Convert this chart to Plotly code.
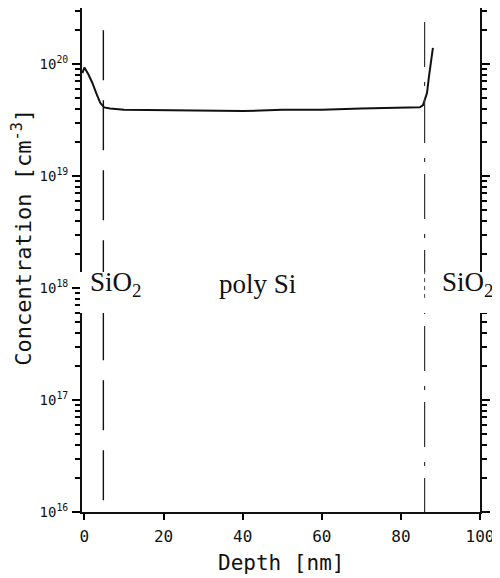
import plotly.graph_objects as go

# ---- data ----
depth_nm = [-0.5, 0.0, 1.0, 2.0, 3.0, 4.0, 5.0, 6.5, 10, 20, 30, 40, 50, 60, 70, 80,
            84.8, 85.6, 86.6, 87.1, 87.9, 88.1]
conc_cm3 = [8.3e19, 9.3e19, 8.1e19, 6.8e19, 5.5e19, 4.5e19, 4.1e19, 4.0e19, 3.9e19,
            3.85e19, 3.8e19, 3.8e19, 3.9e19, 3.9e19, 4.0e19, 4.1e19,
            4.1e19, 4.3e19, 5.5e19, 7.7e19, 1.16e20, 1.39e20]

interface_left_nm = 4.8
interface_right_nm = 86.0

x_tickvals = [0, 20, 40, 60, 80, 100]
x_ticktext = ["0", "20", "40", "60", "80", "100"]
y_tickvals = [1e16, 1e17, 1e18, 1e19, 1e20]
y_ticktext = ["10<sup>16</sup>", "10<sup>17</sup>", "10<sup>18</sup>",
              "10<sup>19</sup>", "10<sup>20</sup>"]
region_labels = ["SiO<sub>2</sub>", "poly Si", "SiO<sub>2</sub>"]
region_label_x = [1.0, 33.6, 89.9]

mono = "DejaVu Sans Mono"
serif = "Liberation Serif"

fig = go.Figure()

fig.add_trace(go.Scatter(x=depth_nm, y=conc_cm3, mode="lines",
                         line=dict(color="#111", width=2), showlegend=False,
                         cliponaxis=False))

# interface dashed lines
fig.add_trace(go.Scatter(x=[interface_left_nm, interface_left_nm], y=[2.0e20, 1e16],
                         mode="lines", line=dict(color="#111", width=1.4, dash="50px,20px"),
                         showlegend=False))
fig.add_trace(go.Scatter(x=[interface_right_nm, interface_right_nm], y=[2.37e20, 1e16],
                         mode="lines",
                         line=dict(color="#333", width=1.2, dash="45px,15px,4px,12px"),
                         showlegend=False))

annotations = []
for txt, xv in zip(region_labels, region_label_x):
    annotations.append(dict(x=xv, y=18.04, xref="x", yref="y", text=txt, showarrow=False,
                            xanchor="left", yanchor="middle",
                            font=dict(family=serif, size=27, color="#111")))
annotations.append(dict(x=-0.151, y=0.546, xref="paper", yref="paper",
                        xanchor="center", yanchor="middle",
                        text="Concentration [cm<sup>-3</sup>]", textangle=-90,
                        showarrow=False, font=dict(family=mono, size=22, color="#111")))
annotations.append(dict(x=0.5, y=-0.101, xref="paper", yref="paper",
                        xanchor="center", yanchor="middle",
                        text="Depth [nm]", showarrow=False,
                        font=dict(family=mono, size=21, color="#111")))

shapes = [
    # white band pasted over the axes behind the region labels
    dict(type="rect", xref="paper", yref="paper", x0=-0.005, x1=1.06, y0=0.395, y1=0.476,
         fillcolor="white", line=dict(width=0), layer="above"),
    dict(type="line", xref="x", yref="paper", x0=interface_right_nm, x1=interface_right_nm,
         y0=0.48, y1=0.425, line=dict(color="#444", width=1, dash="4px,4px"), layer="above"),
    # bottom axis overshoot past the right axis
    dict(type="line", xref="paper", yref="paper", x0=1.0, x1=1.018, y0=0, y1=0,
         line=dict(color="#111", width=2), layer="above"),
]

# page body has an 8px default margin, so the figure is sized/offset to compensate
fig.update_layout(
    width=492, height=570,
    margin=dict(l=74, r=20, t=0, b=66, pad=0),
    paper_bgcolor="white", plot_bgcolor="white",
    showlegend=False,
    annotations=annotations,
    shapes=shapes,
    xaxis=dict(range=[-0.6, 100], tickvals=x_tickvals, ticktext=x_ticktext,
               showgrid=False, zeroline=False, showline=True, linecolor="#111", linewidth=2,
               ticks="outside", ticklen=6, tickwidth=2, tickcolor="#000",
               tickfont=dict(family=mono, size=16, color="#111"), ticklabelstandoff=3),
    yaxis=dict(type="log", range=[16, 20.5], tickvals=y_tickvals, ticktext=y_ticktext,
               showgrid=False, zeroline=False, showline=True, linecolor="#111", linewidth=2,
               mirror="ticks", ticks="outside", ticklen=8, tickwidth=2, tickcolor="#000",
               tickfont=dict(family=mono, size=14, color="#111"), ticklabelstandoff=1,
               minor=dict(dtick="D1", ticks="outside", ticklen=5,
                          tickwidth=1.5, tickcolor="#000", showgrid=False)),
)

fig.write_html("out.html")
